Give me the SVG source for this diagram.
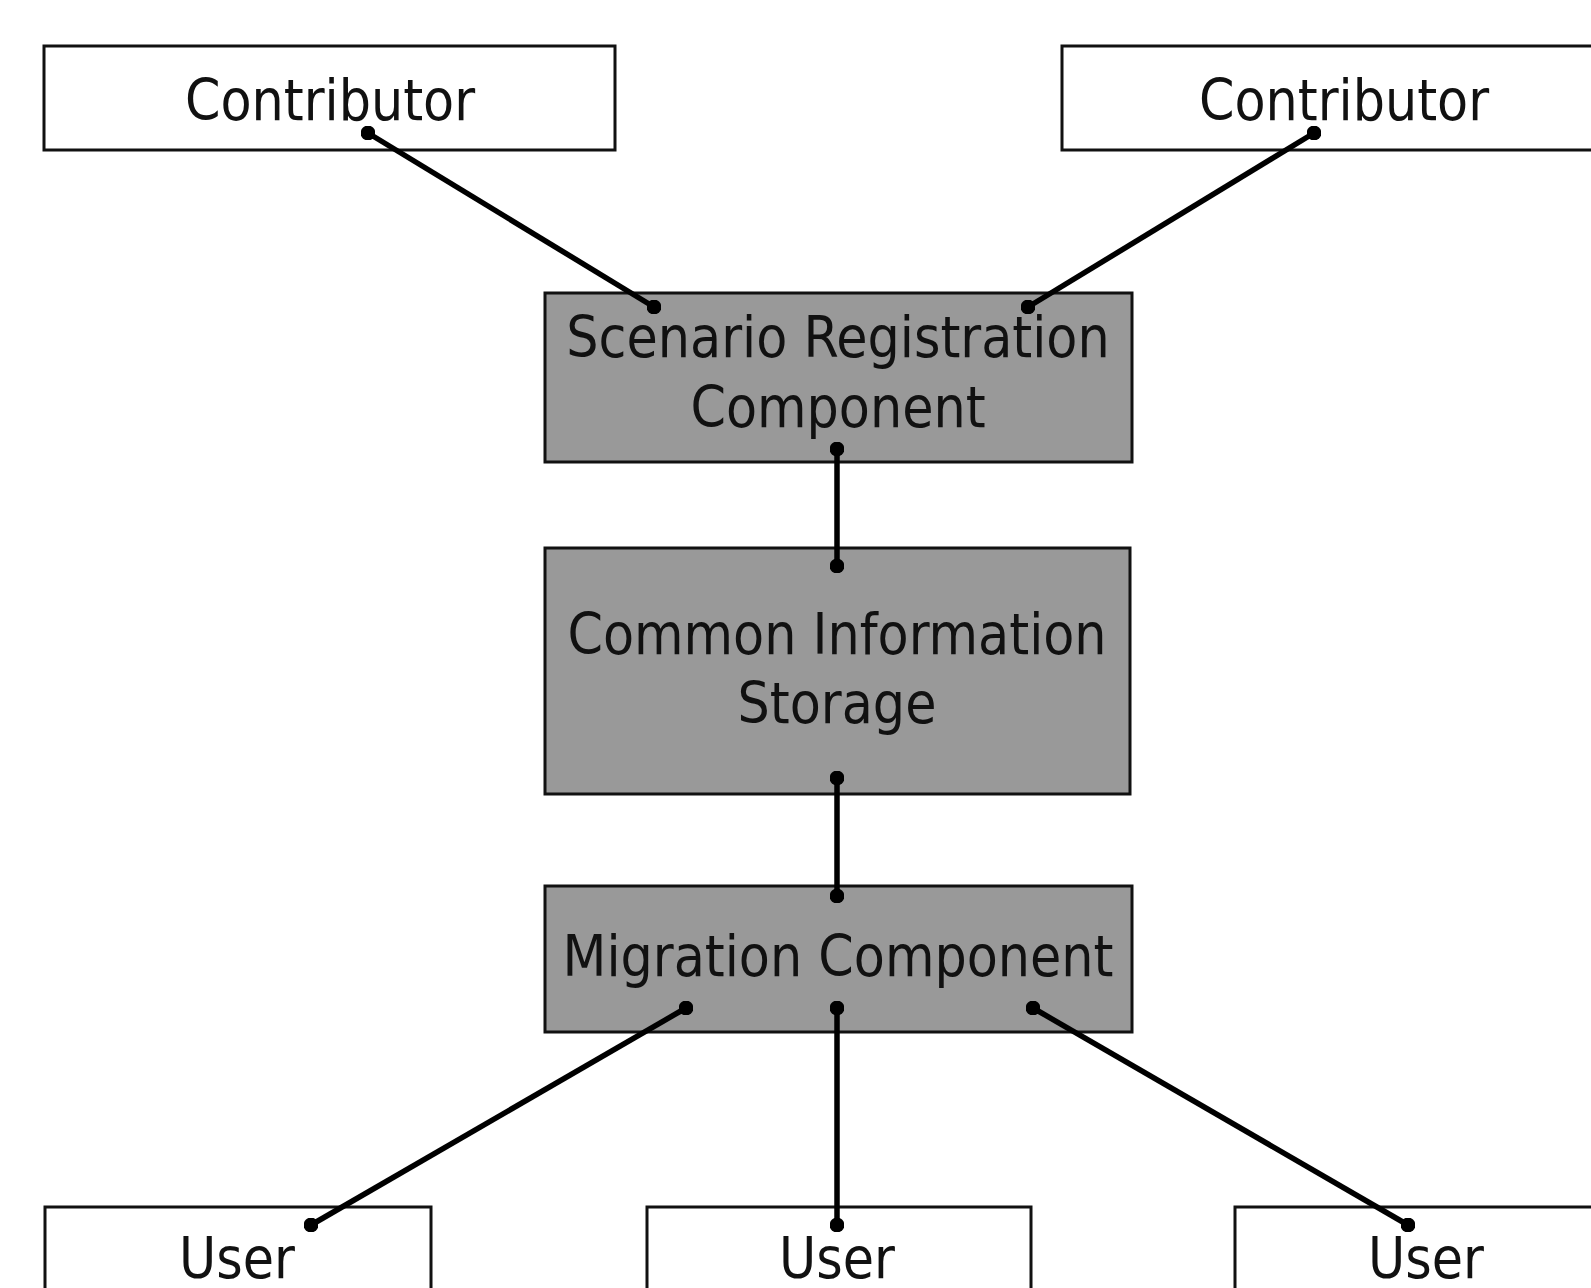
<svg xmlns="http://www.w3.org/2000/svg" width="1591" height="1288" viewBox="0 0 1591 1288">
<style>
.box{stroke:#111;stroke-width:3}
.w{fill:#fff}
.g{fill:#999}
.t{font-family:"DejaVu Sans Condensed","DejaVu Sans",sans-serif;font-stretch:condensed;font-size:56.5px;fill:#111;text-anchor:middle}
.c{stroke:#000;stroke-width:5.5;fill:none;marker-start:url(#dot);marker-end:url(#dot)}
</style>
<defs>
<marker id="dot" viewBox="0 0 10 10" refX="5" refY="5" markerWidth="2.7" markerHeight="2.7" markerUnits="strokeWidth"><circle cx="5" cy="5" r="5" fill="#000"/></marker>
</defs>
<rect width="1591" height="1288" fill="#fff"/>
<g id="contributor1"><rect class="box w" x="44" y="46" width="571" height="104"/><text class="t" x="330" y="120">Contributor</text></g>
<g id="contributor2"><rect class="box w" x="1062" y="46" width="560" height="104"/><text class="t" x="1344" y="120">Contributor</text></g>
<g id="scenario"><rect class="box g" x="545" y="293" width="587" height="169"/><text class="t" x="838" y="357">Scenario Registration</text><text class="t" x="838" y="427">Component</text></g>
<g id="storage"><rect class="box g" x="545" y="548" width="585" height="246"/><text class="t" x="837" y="654">Common Information</text><text class="t" x="837" y="723">Storage</text></g>
<g id="migration"><rect class="box g" x="545" y="886" width="587" height="146"/><text class="t" x="838" y="976">Migration Component</text></g>
<g id="user1"><rect class="box w" x="45" y="1207" width="386" height="120"/><text class="t" x="237" y="1278">User</text></g>
<g id="user2"><rect class="box w" x="647" y="1207" width="384" height="120"/><text class="t" x="837" y="1278">User</text></g>
<g id="user3"><rect class="box w" x="1235" y="1207" width="400" height="120"/><text class="t" x="1426" y="1278">User</text></g>
<g id="connectors">
<line class="c" x1="368" y1="133" x2="654" y2="307"/>
<line class="c" x1="1314" y1="133" x2="1028" y2="307"/>
<line class="c" x1="837" y1="449" x2="837" y2="566"/>
<line class="c" x1="837" y1="778" x2="837" y2="896"/>
<line class="c" x1="686" y1="1008" x2="311" y2="1225"/>
<line class="c" x1="837" y1="1008" x2="837" y2="1225"/>
<line class="c" x1="1033" y1="1008" x2="1408" y2="1225"/>
</g>
</svg>
